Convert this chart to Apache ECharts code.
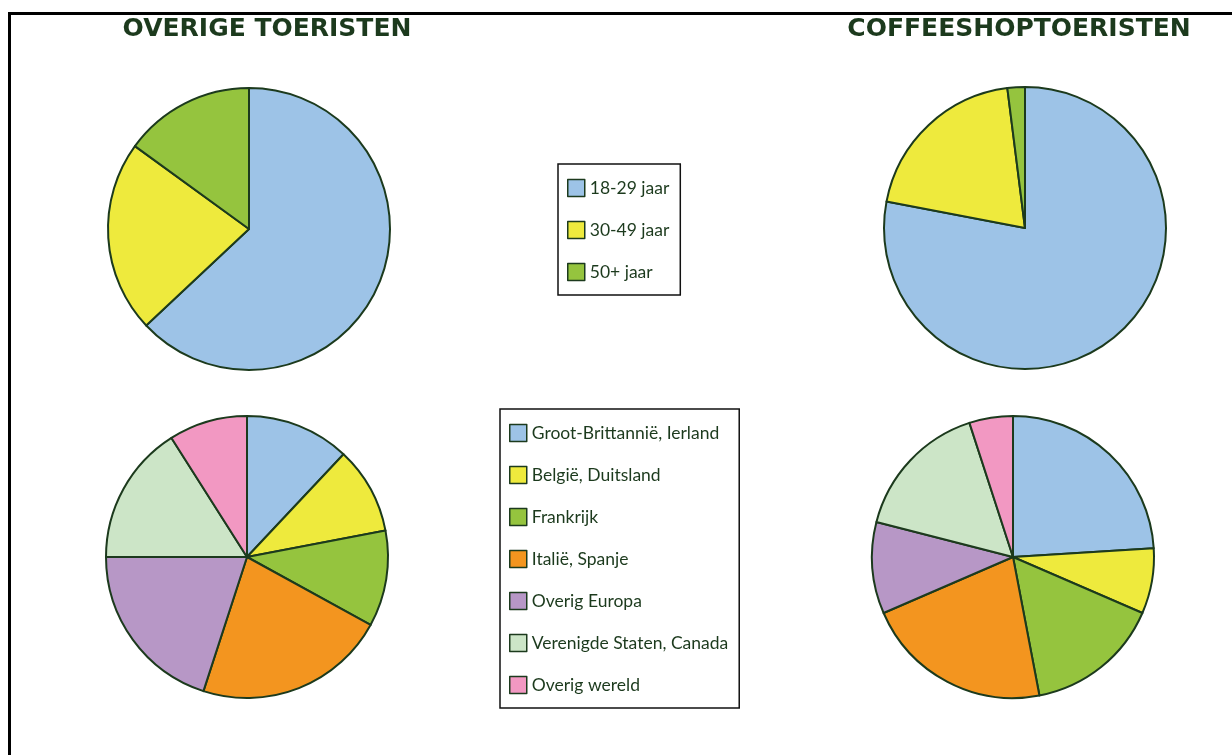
<!DOCTYPE html>
<html>
<head>
<meta charset="utf-8">
<script src="https://cdn.jsdelivr.net/npm/echarts@6/dist/echarts.min.js"></script>
<style>
  html, body { margin: 0; padding: 0; background: #fff; }
  #chart { width: 1232px; height: 755px; }
</style>
</head>
<body>
<div id="chart"></div>
<script>
// leeftijdsgroepen
const ageNames = ['18-29 jaar', '30-49 jaar', '50+ jaar'];
const ageOverig = [63, 22, 15];
const ageCoffee = [78, 20, 2];

// herkomst
const countryNames = [
  'Groot-Brittannië, Ierland',
  'België, Duitsland',
  'Frankrijk',
  'Italië, Spanje',
  'Overig Europa',
  'Verenigde Staten, Canada',
  'Overig wereld'
];
const countryOverig = [12, 10, 11, 22, 20, 16, 9];
const countryCoffee = [24, 7.5, 15.5, 21.5, 10.5, 16, 5];

const ageColors = ['#9DC3E7', '#EEEA3D', '#95C43E'];
const countryColors = ['#9DC3E7', '#EEEA3D', '#95C43E', '#F3951F', '#B797C6', '#CCE5C7', '#F298C2'];

const darkGreen = '#1C3A1D';
const legendFont = '"Liberation Sans Narrow", Lato, sans-serif';

const chart = echarts.init(document.getElementById('chart'));

// maakt de data voor een taartdiagram
function pieData(names, values, colors) {
  return names.map((name, i) => ({
    name: name,
    value: values[i],
    itemStyle: { color: colors[i] }
  }));
}

function pieSeries(center, names, values, colors) {
  return {
    type: 'pie',
    center: center,
    radius: 141,
    startAngle: 90,
    clockwise: true,
    label: { show: false },
    labelLine: { show: false },
    emphasis: { disabled: true },
    itemStyle: { borderColor: darkGreen, borderWidth: 2 },
    data: pieData(names, values, colors)
  };
}

function legendBox(left, top, names) {
  return {
    orient: 'vertical',
    left: left,
    top: top,
    data: names,
    icon: 'rect',
    itemWidth: 17,
    itemHeight: 17,
    itemGap: 22,
    padding: [14, 11, 13, 9],
    borderColor: '#111',
    borderWidth: 1.5,
    selectedMode: false,
    textStyle: {
      color: darkGreen,
      fontFamily: legendFont,
      fontSize: 17.5,
      lineHeight: 20
    },
    itemStyle: { borderColor: darkGreen, borderWidth: 1.5 }
  };
}

const option = {
  animation: false,
  backgroundColor: '#fff',
  legend: [
    legendBox(558, 164, ageNames),
    legendBox(500, 409, countryNames)
  ],
  graphic: [
    { type: 'line', shape: { x1: 8, y1: 13.5, x2: 1232, y2: 13.5 }, style: { stroke: '#000', lineWidth: 3 } },
    { type: 'line', shape: { x1: 9.5, y1: 12, x2: 9.5, y2: 755 }, style: { stroke: '#000', lineWidth: 3 } },
    {
      type: 'text', x: 267, y: 29,
      style: {
        text: 'OVERIGE TOERISTEN', fill: darkGreen,
        font: 'bold 25px "DejaVu Sans", sans-serif',
        textAlign: 'center', textVerticalAlign: 'middle'
      }
    },
    {
      type: 'text', x: 1019, y: 29,
      style: {
        text: 'COFFEESHOPTOERISTEN', fill: darkGreen,
        font: 'bold 25px "DejaVu Sans", sans-serif',
        textAlign: 'center', textVerticalAlign: 'middle'
      }
    }
  ],
  series: [
    pieSeries([249, 229], ageNames, ageOverig, ageColors),
    pieSeries([1025, 228], ageNames, ageCoffee, ageColors),
    pieSeries([247, 557], countryNames, countryOverig, countryColors),
    pieSeries([1013, 557], countryNames, countryCoffee, countryColors)
  ]
};

chart.setOption(option);
</script>
</body>
</html>
